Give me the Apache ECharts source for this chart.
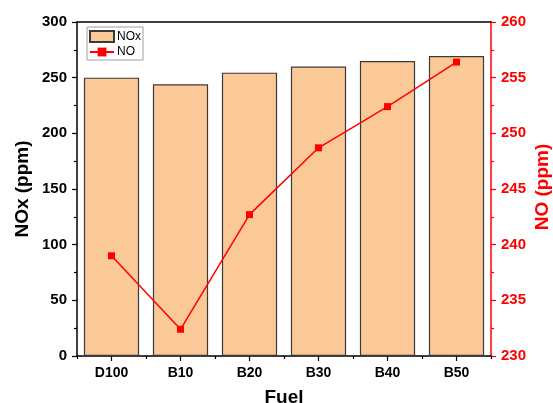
<!DOCTYPE html>
<html>
<head>
<meta charset="utf-8">
<script src="https://cdn.jsdelivr.net/npm/echarts@6/dist/echarts.min.js"></script>
<style>
  html, body { margin: 0; padding: 0; background: #fff; }
  #chart { width: 553px; height: 403px; }
</style>
</head>
<body>
<div id="chart"></div>
<script>
// Fuel blends on the x axis
const fuels = ['D100', 'B10', 'B20', 'B30', 'B40', 'B50'];
// Total NOx emissions (ppm), left axis
const noxValues = [250, 244, 254.5, 260, 265, 269.5];
// NO emissions (ppm), right axis
const noValues = [239.0, 232.4, 242.7, 248.7, 252.4, 256.4];

const FONT = '"Liberation Sans", Arial, sans-serif';
const RED = '#ff0000';

const chart = echarts.init(document.getElementById('chart'), null, { renderer: 'canvas' });

chart.setOption({
  animation: false,
  backgroundColor: '#ffffff',
  grid: { left: 77, right: 62, top: 22, bottom: 47, containLabel: false, outerBoundsMode: 'none' },
  legend: {
    orient: 'vertical',
    left: 87,
    top: 27,
    itemGap: 3,
    itemWidth: 24,
    itemHeight: 11,
    padding: [3, 2, 2, 2],
    backgroundColor: '#ffffff',
    borderColor: '#a0a0a0',
    borderWidth: 1,
    borderRadius: 0,
    textStyle: { fontFamily: FONT, fontSize: 12, color: '#000', padding: [0, 0, 0, -2] },
    data: [
      { name: 'NOx', icon: 'rect' },
      { name: 'NO' }
    ]
  },
  // right-hand axis title, set just inside the canvas edge
  graphic: [
    {
      type: 'text',
      x: 543,
      y: 187,
      rotation: Math.PI / 2,
      silent: true,
      style: {
        text: 'NO (ppm)',
        fill: RED,
        font: 'bold 19px "Liberation Sans", Arial, sans-serif',
        align: 'center',
        verticalAlign: 'middle'
      }
    }
  ],
  xAxis: [
    {
      type: 'category',
      data: fuels,
      position: 'bottom',
      name: 'Fuel',
      nameLocation: 'middle',
      nameGap: 32,
      nameMoveOverlap: false,
      nameTextStyle: { fontFamily: FONT, fontSize: 19, fontWeight: 'bold', color: '#000' },
      axisLine: { show: true, lineStyle: { color: '#000', width: 1.5 } },
      axisTick: { show: true, alignWithLabel: true, inside: false, length: 5, lineStyle: { color: '#000', width: 1.2 } },
      axisLabel: { fontFamily: FONT, fontSize: 14, fontWeight: 'bold', color: '#000', margin: 10 },
      splitLine: { show: false }
    },
    {
      // boundary ticks between categories
      type: 'category',
      data: fuels,
      position: 'bottom',
      axisLine: { show: false },
      axisTick: { show: true, inside: false, length: 3, lineStyle: { color: '#000', width: 1.2 } },
      axisLabel: { show: false },
      splitLine: { show: false }
    },
    {
      // top frame
      type: 'category',
      data: fuels,
      position: 'top',
      axisLine: { show: true, lineStyle: { color: '#000', width: 1.5 } },
      axisTick: { show: false },
      axisLabel: { show: false },
      splitLine: { show: false }
    }
  ],
  yAxis: [
    {
      type: 'value',
      min: 0,
      max: 300,
      interval: 50,
      position: 'left',
      name: 'NOx (ppm)',
      nameLocation: 'middle',
      nameGap: 45,
      nameMoveOverlap: false,
      nameRotate: 90,
      nameTextStyle: { fontFamily: FONT, fontSize: 19, fontWeight: 'bold', color: '#000' },
      axisLine: { show: true, lineStyle: { color: '#000', width: 1.5 } },
      axisTick: { show: true, inside: false, length: 5, lineStyle: { color: '#000', width: 1.2 } },
      minorTick: { show: true, splitNumber: 2, length: 3, lineStyle: { color: '#000', width: 1.2 } },
      axisLabel: { fontFamily: FONT, fontSize: 15, fontWeight: 'bold', color: '#000', margin: 10 },
      splitLine: { show: false }
    },
    {
      type: 'value',
      min: 230,
      max: 260,
      interval: 5,
      position: 'right',
      axisLine: { show: true, lineStyle: { color: RED, width: 1.5 } },
      axisTick: { show: true, inside: false, length: 5, lineStyle: { color: RED, width: 1.2 } },
      minorTick: { show: true, splitNumber: 2, length: 3, lineStyle: { color: RED, width: 1.2 } },
      axisLabel: { fontFamily: FONT, fontSize: 15, fontWeight: 'bold', color: RED, margin: 10 },
      splitLine: { show: false }
    }
  ],
  series: [
    {
      name: 'NOx',
      type: 'bar',
      xAxisIndex: 0,
      yAxisIndex: 0,
      data: noxValues,
      barWidth: '80%',
      itemStyle: { color: '#fbc998', borderColor: '#3a3a3a', borderWidth: 1.2 }
    },
    {
      name: 'NO',
      type: 'line',
      xAxisIndex: 0,
      yAxisIndex: 1,
      data: noValues,
      symbol: 'rect',
      symbolSize: 7,
      lineStyle: { color: RED, width: 1.5 },
      itemStyle: { color: RED },
      z: 5
    }
  ]
});
</script>
</body>
</html>
